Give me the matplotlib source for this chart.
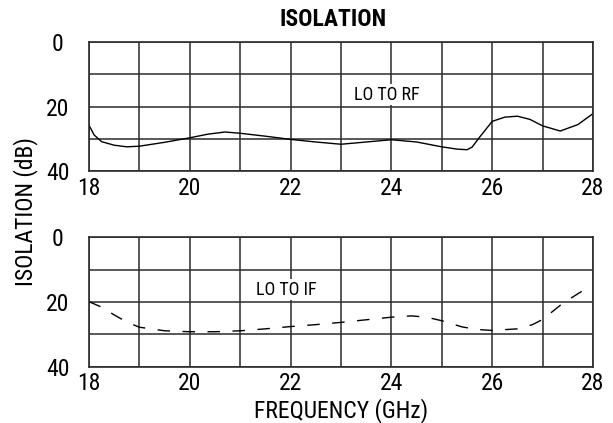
import numpy as np
import matplotlib
matplotlib.use("Agg")
from matplotlib import pyplot as plt
from matplotlib import font_manager
from matplotlib.ticker import MultipleLocator

# LO to RF isolation (dB)
freq_rf = [18.0, 18.1, 18.25, 18.5, 18.75, 19.0, 19.5, 20.0, 20.35, 20.7, 21.0,
           21.5, 22.0, 22.5, 23.0, 23.5, 24.0, 24.5, 25.0, 25.3, 25.5, 25.6,
           25.75, 26.0, 26.25, 26.5, 26.75, 27.0, 27.35, 27.7, 28.0]
iso_rf = [25.8, 28.8, 30.9, 32.0, 32.5, 32.3, 31.1, 29.7, 28.6, 27.9, 28.3,
          29.2, 30.2, 31.0, 31.7, 31.0, 30.3, 31.0, 32.5, 33.2, 33.4, 32.6,
          29.5, 24.6, 23.3, 23.0, 24.0, 26.0, 27.6, 25.6, 22.2]

# LO to IF isolation (dB)
freq_if = [18.0, 18.25, 18.5, 18.75, 19.0, 19.5, 20.0, 20.5, 21.0, 21.5, 22.0,
           22.5, 23.0, 23.5, 24.0, 24.4, 24.7, 25.0, 25.4, 25.7, 26.0, 26.5,
           26.8, 27.0, 27.4, 27.9]
iso_if = [19.9, 21.6, 24.0, 26.2, 27.8, 28.9, 29.2, 29.2, 28.9, 28.3, 27.6,
          27.0, 26.3, 25.5, 24.7, 24.3, 24.7, 25.8, 27.7, 28.5, 28.8, 28.3,
          27.0, 25.4, 20.4, 15.5]

xticks = [18, 20, 22, 24, 26, 28]
yticks = [0, 20, 40]

# the original uses a condensed grotesque; take the first one installed
names = {f.name for f in font_manager.fontManager.ttflist}
family = "Liberation Sans"
for cand in ["Roboto Condensed", "Liberation Sans Narrow", "Arial Narrow",
             "Barlow Condensed"]:
    if cand in names:
        family = cand
        break
k = 0.88 if family == "Liberation Sans" else 1.0

plt.rcParams["font.family"] = [family, "DejaVu Sans"]
GRID = "#2b2b2b"
FS = 17 * k

fig = plt.figure(figsize=(6.13, 4.23), dpi=100)
ax_rf = fig.add_axes([0.1452, 0.5957, 0.8222, 0.305])
ax_if = fig.add_axes([0.1452, 0.1331, 0.8222, 0.306])


def style_axes(ax):
    ax.set_xlim(18, 28)
    ax.set_ylim(40, 0)
    ax.set_xticks(xticks)
    ax.set_yticks(yticks)
    ax.xaxis.set_minor_locator(MultipleLocator(1))
    ax.yaxis.set_minor_locator(MultipleLocator(10))
    ax.grid(which="both", color=GRID, linewidth=1.1)
    ax.set_axisbelow(True)
    ax.tick_params(which="both", length=0, labelsize=FS)
    ax.tick_params(axis="x", pad=4)
    ax.tick_params(axis="y", pad=22.5)
    for lab in ax.get_yticklabels():
        lab.set_horizontalalignment("center")
    for sp in ax.spines.values():
        sp.set_color(GRID)
        sp.set_linewidth(1.2)


style_axes(ax_rf)
style_axes(ax_if)

ax_rf.plot(freq_rf, iso_rf, color="black", linewidth=1.0)
ax_if.plot(freq_if, iso_if, color="black", linewidth=1.0, dashes=(9, 9))

box = dict(facecolor="white", edgecolor="none", pad=1.0)
ax_rf.text(23.9, 16.3, "LO TO RF", fontsize=13 * k, ha="center", va="center", bbox=box)
ax_if.text(21.92, 16.2, "LO TO IF", fontsize=13 * k, ha="center", va="center", bbox=box)

fig.text(0.5437, 0.953, "ISOLATION", fontsize=FS, fontweight="bold",
         ha="center", va="center")
fig.text(0.041, 0.499, "ISOLATION (dB)", fontsize=FS, rotation=90,
         ha="center", va="center")
ax_if.set_xlabel("FREQUENCY (GHz)", fontsize=FS, labelpad=2)

fig.savefig("out.png", dpi=100)
